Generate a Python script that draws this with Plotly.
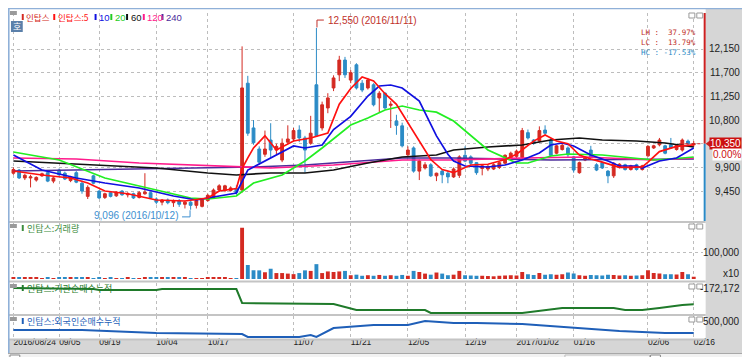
import plotly.graph_objects as go

W, H = 750, 357

# ---------------- data ----------------
x_idx = list(range(120))
tick_idx = [0, 8, 15, 25, 34, 49, 59, 69, 79, 88, 98, 111, 119]
tick_text = ["2016/08/24", "09/05", "09/19", "10/04", "10/17", "11/07", "11/21",
             "12/05", "12/19", "2017/01/02", "01/16", "02/06", "02/16"]

opens = [9790, 9850, 9700, 9700, 9660, 9740, 9800, 9640, 9850, 9790,
         9650, 9800, 9600, 9350, 9740, 9450, 9330, 9420, 9360, 9450,
         9380, 9400, 9330, 9400, 9420, 9300, 9240, 9280, 9230, 9260,
         9200, 9240, 9180, 9160, 9270, 9330, 9470, 9460, 9460, 9500,
         9470, 11500, 10650, 10250, 10150, 10420, 10230, 10040, 10380, 10440,
         10610, 10460, 10360, 11470, 10650, 11030, 11410, 11660, 11940, 11560,
         11850, 11500, 11410, 11470, 11220, 11310, 11080, 10780, 10690, 10140,
         10270, 9830, 9890, 9950, 9740, 9830, 9790, 9720, 9750, 10130,
         10100, 9990, 9880, 9870, 9870, 9900, 9980, 10080, 10110, 10090,
         10560, 10420, 10400, 10610, 10420, 10170, 10240, 10270, 10100, 9800,
         10040, 10230, 9950, 9990, 9830, 9740, 9900, 9950, 9860, 9950,
         9860, 10120, 10270, 10330, 10310, 10330, 10240, 10230, 10400, 10330]
highs = [9900, 9870, 9780, 9760, 9730, 9800, 9820, 9720, 9880, 9820,
         9740, 9830, 9650, 9560, 9760, 9470, 9420, 9450, 9450, 9470,
         9430, 9420, 9450, 9790, 9440, 9330, 9300, 9310, 9290, 9300,
         9270, 9260, 9300, 9320, 9400, 9500, 9580, 9570, 9540, 9560,
         12200, 11640, 10800, 10300, 10600, 10740, 10350, 10450, 10700, 10650,
         10700, 10500, 10880, 12550, 11150, 11310, 11650, 12020, 12000, 11750,
         11880, 11560, 11600, 11500, 11350, 11330, 11160, 10900, 10750, 10300,
         10300, 10050, 10000, 9980, 9800, 9850, 9830, 9900, 10130, 10300,
         10130, 10000, 9960, 9950, 9980, 10010, 10150, 10200, 10240, 10650,
         10620, 10440, 10680, 10700, 10450, 10330, 10350, 10300, 10120, 10010,
         10110, 10310, 9980, 10010, 9850, 10000, 9980, 9970, 9950, 9970,
         9950, 10320, 10330, 10460, 10330, 10460, 10340, 10450, 10430, 10400]
lows = [9760, 9680, 9660, 9520, 9630, 9720, 9620, 9600, 9740, 9660,
        9620, 9600, 9400, 9300, 9580, 9300, 9300, 9330, 9340, 9360,
        9330, 9300, 9310, 9380, 9300, 9200, 9180, 9200, 9150, 9150,
        9120, 9096, 9120, 9140, 9250, 9300, 9440, 9430, 9440, 9380,
        9420, 10500, 10330, 9960, 10100, 10080, 10150, 10000, 10350, 10400,
        10380, 9800, 10330, 10480, 10600, 10930, 11350, 11540, 11600, 11500,
        11380, 11330, 11380, 11060, 10950, 11000, 10650, 10520, 10280, 10100,
        9800, 9660, 9860, 9720, 9640, 9600, 9600, 9700, 9700, 10000,
        9950, 9760, 9750, 9830, 9850, 9870, 9950, 10050, 10080, 10060,
        10430, 10330, 10380, 10520, 10100, 10150, 10220, 10100, 9800, 9780,
        10020, 10070, 9830, 9870, 9600, 9700, 9880, 9840, 9840, 9840,
        9840, 10100, 10250, 10300, 10150, 10250, 10220, 10200, 10320, 10290]
closes = [9860, 9700, 9750, 9720, 9710, 9780, 9640, 9700, 9760, 9680,
          9720, 9620, 9450, 9520, 9600, 9320, 9400, 9350, 9430, 9380,
          9400, 9320, 9420, 9430, 9320, 9240, 9280, 9230, 9260, 9200,
          9240, 9180, 9270, 9290, 9370, 9470, 9550, 9550, 9510, 9420,
          11410, 10550, 10370, 10000, 10250, 10230, 10300, 10360, 10440, 10600,
          10460, 10230, 10550, 10500, 11090, 11220, 11600, 11940, 11660, 11700,
          11410, 11370, 11560, 11090, 11310, 11030, 11100, 10700, 10310, 10230,
          9830, 10020, 9950, 9740, 9790, 9760, 9720, 9870, 10100, 10020,
          9980, 9800, 9930, 9920, 9950, 9990, 10130, 10170, 10210, 10600,
          10460, 10360, 10600, 10550, 10130, 10310, 10320, 10140, 9850, 9990,
          10090, 10090, 9850, 9890, 9740, 9980, 9960, 9860, 9930, 9860,
          9930, 10300, 10310, 10420, 10170, 10270, 10320, 10420, 10350, 10350]
volumes = [4000, 5000, 5000, 4500, 5000, 1500, 4000, 1500, 5000, 5000,
           5000, 4500, 5000, 4500, 1500, 4000, 1500, 4000, 1500, 1500,
           4000, 1500, 1500, 5000, 5000, 5000, 5000, 5000, 5000, 5000,
           5000, 1500, 1500, 1500, 5000, 5000, 5000, 5000, 1500, 1500,
           190000, 52000, 32000, 32000, 25000, 38000, 22000, 22000, 20000, 18000,
           22000, 32000, 30000, 55000, 22000, 28000, 26000, 28000, 30000, 14000,
           16000, 12000, 14000, 12000, 15000, 12000, 14000, 12000, 15000, 12000,
           30000, 26000, 20000, 16000, 24000, 20000, 14000, 16000, 30000, 14000,
           13000, 12000, 12000, 11000, 10000, 12000, 13000, 14000, 13000, 26000,
           18000, 15000, 22000, 16000, 18000, 16000, 18000, 24000, 20000, 14000,
           12000, 15000, 14000, 13000, 16000, 15000, 13000, 14000, 12000, 13000,
           14000, 32000, 22000, 20000, 18000, 18000, 17000, 26000, 18000, 8000]

ma5_idx = [0, 5, 10, 13, 16, 20, 25, 30, 34, 36, 39, 40, 41, 42, 44, 46, 49, 52, 55, 57,
           59, 61, 63, 65, 67, 69, 71, 73, 75, 77, 80, 83, 86, 88, 91, 93, 95, 97, 99, 101,
           103, 106, 108, 110, 111, 113, 116, 119]
ma5_val = [9832, 9756, 9699, 9604, 9452, 9400, 9281, 9262, 9319, 9452, 9500, 9880, 10080, 10270,
           10500, 10231, 10402, 10459, 10554, 11100, 11400, 11620, 11542, 11300, 11100, 10750,
           10400, 10050, 9860, 9800, 9946, 9960, 10050, 10150, 10400, 10516, 10402, 10350, 10136,
           10060, 10000, 9900, 9900, 9910, 10000, 10200, 10300, 10330]
ma10_idx = [0, 5, 11, 16, 22, 28, 32, 34, 36, 39, 41, 45, 49, 51, 54, 56, 59, 62, 64, 66,
            68, 71, 74, 76, 77, 79, 83, 86, 89, 92, 94, 96, 98, 101, 104, 106, 109, 110, 113, 116, 119]
ma10_val = [10136, 9851, 9699, 9604, 9509, 9357, 9281, 9319, 9357, 9414, 9851, 10079, 10307, 10269,
            10326, 10620, 10870, 11257, 11447, 11466, 11409, 11162, 10500, 10150, 10022, 9927, 9908,
            9946, 10041, 10174, 10326, 10364, 10307, 10136, 10022, 9927, 9927, 9889, 10022, 10079, 10269]
ma20_idx = [0, 8, 16, 25, 31, 34, 39, 42, 47, 51, 54, 59, 62, 65, 68, 71, 74, 77, 80, 83,
            88, 90, 94, 97, 103, 109, 112, 117, 119]
ma20_val = [10193, 10041, 9699, 9471, 9319, 9300, 9357, 9604, 9756, 10022, 10269, 10706, 10839,
            10991, 11067, 10991, 10950, 10782, 10500, 10231, 9984, 9984, 10117, 10155, 10136, 10079,
            10041, 10079, 10098]
ma60_idx = [0, 8, 16, 25, 34, 39, 45, 51, 56, 62, 68, 74, 77, 83, 89, 94, 99, 103, 109, 114, 119]
ma60_val = [10022, 9984, 9946, 9889, 9794, 9756, 9794, 9794, 9851, 9984, 10098, 10136, 10231,
            10288, 10326, 10421, 10459, 10421, 10402, 10364, 10288]
ma120_idx = [0, 11, 22, 34, 42, 45, 56, 68, 77, 89, 100, 112, 119]
ma120_val = [10079, 10060, 9984, 9927, 9889, 9889, 9946, 10041, 10041, 10079, 10098, 10041, 10079]
ma240_idx = [0, 11, 22, 34, 42, 51, 62, 68, 77, 94, 119]
ma240_val = [9832, 9851, 9870, 9889, 9908, 9946, 10041, 10079, 10079, 10041, 10060]

inst_idx = [0, 14, 15, 25, 26, 39, 40, 56, 60, 72, 73, 89, 96, 105, 107, 110, 113, 117, 119]
inst_val = [-172172, -175172, -178172, -178172, -175172, -175172, -217172, -220172, -238172,
            -238172, -247172, -247172, -232172, -232172, -238172, -238172, -232172, -223172, -221000]
frgn_idx = [0, 12, 25, 40, 41, 50, 52, 53, 56, 63, 69, 72, 77, 81, 89, 98, 106, 114, 119]
frgn_val = [410000, 410000, 380000, 370000, 340000, 340000, 360000, 340000, 430000, 460000,
            460000, 500000, 480000, 480000, 470000, 430000, 400000, 380000, 380000]

price_ticks = [9450, 9900, 10350, 10800, 11250, 11700, 12150]
vol_tick = 100000
inst_tick = -172172
frgn_tick = 500000
last_price = 10350
hi_price, hi_idx = 12550, 53
lo_price, lo_idx = 9096, 31
stats = [("LH :  37.97%", "#c0302a"), ("LC :  13.79%", "#c0302a"), ("HC : -17.53%", "#2a8ac6")]

# ---------------- styling helpers ----------------
def fx(px):
    return px / W

def fy(py):
    return 1 - py / H

UP = "#d42a22"
DN = "#2b8bc6"
GRID = "#bdbdbd"
NUMF = "Liberation Sans, Arial, sans-serif"
KRF = "Noto Sans CJK KR, sans-serif"

X_DOM = [fx(3), fx(706)]
X_RNG = [-0.43, 120.57]
P_RNG = [8882, 12834]           # y 213 .. 5
V_RNG = [0, 207400]             # y 271 .. 215
I_RNG = [-250172, -157172]      # y 306 .. 275
F_RNG = [320000, 550000]        # y 331 .. 308

fig = go.Figure()

fig.add_trace(go.Candlestick(
    x=x_idx, open=opens, high=highs, low=lows, close=closes,
    increasing=dict(line=dict(color=UP, width=1), fillcolor=UP),
    decreasing=dict(line=dict(color=DN, width=1), fillcolor=DN),
    whiskerwidth=0, xaxis="x", yaxis="y", showlegend=False, hoverinfo="skip"))

for ix, vals, col, wd in [(ma240_idx, ma240_val, "#4b2c9a", 1.7),
                          (ma120_idx, ma120_val, "#ff1a8c", 1.7),
                          (ma60_idx, ma60_val, "#111111", 1.7),
                          (ma20_idx, ma20_val, "#22ee22", 1.7),
                          (ma10_idx, ma10_val, "#1010e0", 1.7),
                          (ma5_idx, ma5_val, "#ff1010", 1.7)]:
    fig.add_trace(go.Scatter(x=ix, y=vals, mode="lines", line=dict(color=col, width=wd),
                             xaxis="x", yaxis="y", showlegend=False, hoverinfo="skip"))

vcols = [UP if c >= o else DN for o, c in zip(opens, closes)]
fig.add_trace(go.Bar(x=x_idx, y=volumes, marker=dict(color=vcols, line=dict(width=0)),
                     width=0.68, xaxis="x2", yaxis="y2", showlegend=False, hoverinfo="skip"))

fig.add_trace(go.Scatter(x=inst_idx, y=inst_val, mode="lines",
                         line=dict(color="#1f7a2a", width=2),
                         xaxis="x3", yaxis="y3", showlegend=False, hoverinfo="skip"))
fig.add_trace(go.Scatter(x=frgn_idx, y=frgn_val, mode="lines",
                         line=dict(color="#1f5fb8", width=2),
                         xaxis="x4", yaxis="y4", showlegend=False, hoverinfo="skip"))

xcommon = dict(domain=X_DOM, range=X_RNG, showgrid=True, gridcolor=GRID, griddash="dot",
               gridwidth=1, tickmode="array", tickvals=tick_idx, zeroline=False,
               showline=False, ticks="", fixedrange=True)
ycommon = dict(showgrid=True, gridcolor=GRID, griddash="dot", gridwidth=1, zeroline=False,
               showline=False, showticklabels=False, ticks="", fixedrange=True, tickmode="array")

fig.update_layout(
    width=W, height=H, margin=dict(l=0, r=0, t=0, b=0),
    paper_bgcolor="white", plot_bgcolor="white",
    xaxis=dict(xcommon, anchor="y", showticklabels=False, rangeslider=dict(visible=False)),
    xaxis2=dict(xcommon, anchor="y2", matches="x", showticklabels=False),
    xaxis3=dict(xcommon, anchor="y3", matches="x", showticklabels=False),
    xaxis4=dict(xcommon, anchor="y4", matches="x", showticklabels=True, ticktext=tick_text,
                ticklabelposition="outside right", ticklabelstandoff=-4, tickangle=0,
                tickfont=dict(family=NUMF, size=8.5, color="#222")),
    yaxis=dict(ycommon, domain=[fy(213), fy(5)], range=P_RNG, anchor="x", tickvals=price_ticks),
    yaxis2=dict(ycommon, domain=[fy(271), fy(215)], range=V_RNG, anchor="x2", tickvals=[vol_tick]),
    yaxis3=dict(ycommon, domain=[fy(306), fy(275)], range=I_RNG, anchor="x3", tickvals=[]),
    yaxis4=dict(ycommon, domain=[fy(331), fy(308)], range=F_RNG, anchor="x4", tickvals=[]),
)

shapes = []
def prect(x0, y0, x1, y1, fill, line=None, layer="below"):
    shapes.append(dict(type="rect", xref="paper", yref="paper", x0=fx(x0), x1=fx(x1),
                       y0=fy(y1), y1=fy(y0), fillcolor=fill,
                       line=dict(width=0) if line is None else line, layer=layer))

def pline(x0, y0, x1, y1, col, wd=1, layer="above"):
    shapes.append(dict(type="line", xref="paper", yref="paper", x0=fx(x0), x1=fx(x1),
                       y0=fy(y0), y1=fy(y1), line=dict(color=col, width=wd), layer=layer))

# right axis strip, date strip, bottom strip
prect(709, 0, 750, 332, "#d6d6d6")
prect(0, 332, 750, 345, "#d6d6d6")
prect(0, 345, 750, 357, "#f2f2f2")
pline(0, 345.5, 750, 345.5, "#a8a8a8", 1)
# panel separators
for yy in [214, 273.5, 307, 331.5]:
    pline(0, yy, 709, yy, "#c4c4c4", 2)
# frame
pline(0.8, 0, 0.8, 345, "#8fb0d8", 1.6)
pline(0, 0.6, 750, 0.6, "#8fb0d8", 1.2)

# current price vertical bar (red above, blue below)
shapes.append(dict(type="line", xref="paper", yref="y", x0=fx(708), x1=fx(708),
                   y0=last_price, y1=P_RNG[1], line=dict(color="#cc2020", width=2)))
shapes.append(dict(type="line", xref="paper", yref="y", x0=fx(708), x1=fx(708),
                   y0=P_RNG[0], y1=last_price, line=dict(color="#2a8ac6", width=2)))
shapes.append(dict(type="line", xref="x", yref="y", x0=116.5, x1=X_RNG[1],
                   y0=last_price, y1=last_price, line=dict(color="#cc2020", width=1, dash="dot")))
shapes.append(dict(type="path", xref="paper", yref="y",
                   path=f"M {fx(709)},{last_price} L {fx(715)},{last_price + 85} "
                        f"L {fx(715)},{last_price - 85} Z",
                   fillcolor="#cc2020", line=dict(width=0)))

# high / low marker connectors
shapes.append(dict(type="path", xref="x", yref="y",
                   path=f"M {hi_idx + 0.1},{hi_price + 10} L {hi_idx + 0.1},12700 L 54.3,12700",
                   line=dict(color="#c0302a", width=1)))
shapes.append(dict(type="path", xref="x", yref="y",
                   path=f"M 29.5,8960 L {lo_idx - 0.1},8960 L {lo_idx - 0.1},{lo_price - 10}",
                   line=dict(color="#3d8fd0", width=1)))

# little panel icons
for yy in [3, 216, 276, 309]:
    prect(2, yy, 9, yy + 4, "#9a9a9a", layer="above")
for yy in [5, 216, 276, 309]:
    prect(692, yy, 698, yy + 5, "white", line=dict(color="#9a9a9a", width=1), layer="above")
    prect(700, yy, 706, yy + 5, "white", line=dict(color="#9a9a9a", width=1), layer="above")
prect(3, 13, 15, 24, "#5b80aa", layer="above")
# bottom controls
prect(2, 347, 12, 356, "white", line=dict(color="#888", width=1), layer="above")
prect(653, 347, 663, 356, "white", line=dict(color="#888", width=1), layer="above")
prect(566, 347, 652, 356, "#f8f8f8", line=dict(color="#bbb", width=1), layer="above")
pline(722, 350, 745, 350, "#666", 1)

# legend squares
legend_items = [(14, "인탑스", UP), (46, "인탑스:5", "#ff1010"), (88, "10", "#1010e0"),
                (104, "20", "#22cc22"), (120, "60", "#111111"), (137, "120", "#ff1a8c"),
                (156, "240", "#4b2c9a")]
for xx, _, col in legend_items:
    prect(xx, 6, xx + 2, 12, col, layer="above")
for yy, col in [(217, "#3c8c3c"), (277, "#1f7a2a"), (310, "#1f5fb8")]:
    prect(14, yy, 16, yy + 6, col, layer="above")

fig.update_layout(shapes=shapes)

ann = []
def ptext(x, y, text, col, size=10, fam=NUMF, anchor="left", bg=None):
    d = dict(xref="paper", yref="paper", x=fx(x), y=fy(y), text=text, showarrow=False,
             xanchor=anchor, yanchor="middle", font=dict(family=fam, size=size, color=col))
    if bg:
        d["bgcolor"] = bg
    ann.append(d)

for xx, txt, col in legend_items:
    ptext(xx + 2.5, 9, txt, col, size=8.5 if "인" in txt else 9.5,
          fam=KRF if "인" in txt else NUMF)
ptext(9, 18.5, "호", "white", size=9, fam=KRF, anchor="center")

ptext(17, 220, "인탑스:거래량", "#3c8c3c", size=9, fam=KRF)
ptext(17, 280, "인탑스:기관순매수누적", "#1f7a2a", size=9, fam=KRF)
ptext(17, 313, "인탑스:외국인순매수누적", "#1f5fb8", size=9, fam=KRF)

stat_text = "<br>".join(f'<span style="color:{c}">{t}</span>' for t, c in stats)
ann.append(dict(xref="paper", yref="paper", x=fx(701), y=fy(17.5), text=stat_text,
                showarrow=False, xanchor="right", yanchor="top", align="left",
                font=dict(family="DejaVu Sans Mono, Liberation Mono, monospace", size=7.5,
                          color="#c0302a")))

# right-axis labels (positioned through the axes' scales)
for p in price_ticks:
    if p == last_price:
        continue
    ann.append(dict(xref="paper", yref="y", x=fx(746), y=p, text=f"{p:,}", showarrow=False,
                    xanchor="right", yanchor="middle", font=dict(family=NUMF, size=10, color="#222")))
ann.append(dict(xref="paper", yref="y", x=fx(746), y=last_price, text=f"{last_price:,}",
                showarrow=False, xanchor="right", yanchor="middle", bgcolor="#cc1010",
                borderpad=0, font=dict(family=NUMF, size=10, color="white")))
ann.append(dict(xref="paper", yref="y", x=fx(746), y=last_price - 210, text="0.00%",
                showarrow=False, xanchor="right", yanchor="middle", bgcolor="white",
                borderpad=0, font=dict(family=NUMF, size=10, color="#cc1010")))
ann.append(dict(xref="paper", yref="y2", x=fx(746), y=vol_tick, text=f"{vol_tick:,}",
                showarrow=False, xanchor="right", yanchor="middle",
                font=dict(family=NUMF, size=10, color="#222")))
ann.append(dict(xref="paper", yref="y2", x=fx(746), y=vol_tick * 0.2, text="x10",
                showarrow=False, xanchor="right", yanchor="middle",
                font=dict(family=NUMF, size=10, color="#222")))
ann.append(dict(xref="paper", yref="y3", x=fx(746), y=inst_tick, text=f"{inst_tick:,}",
                showarrow=False, xanchor="right", yanchor="middle",
                font=dict(family=NUMF, size=10, color="#222")))
ann.append(dict(xref="paper", yref="y4", x=fx(746), y=frgn_tick, text=f"{frgn_tick:,}",
                showarrow=False, xanchor="right", yanchor="middle",
                font=dict(family=NUMF, size=10, color="#222")))

# high / low labels
ann.append(dict(xref="x", yref="y", x=54.6, y=12690, text=f"{hi_price:,} (2016/11/11)",
                showarrow=False, xanchor="left", yanchor="middle",
                font=dict(family=NUMF, size=10, color="#c0302a")))
ann.append(dict(xref="x", yref="y", x=29.3, y=8990, text=f"{lo_price:,} (2016/10/12)",
                showarrow=False, xanchor="right", yanchor="middle",
                font=dict(family=NUMF, size=10, color="#3d8fd0")))

fig.update_layout(annotations=ann)
fig.write_html("out.html")
